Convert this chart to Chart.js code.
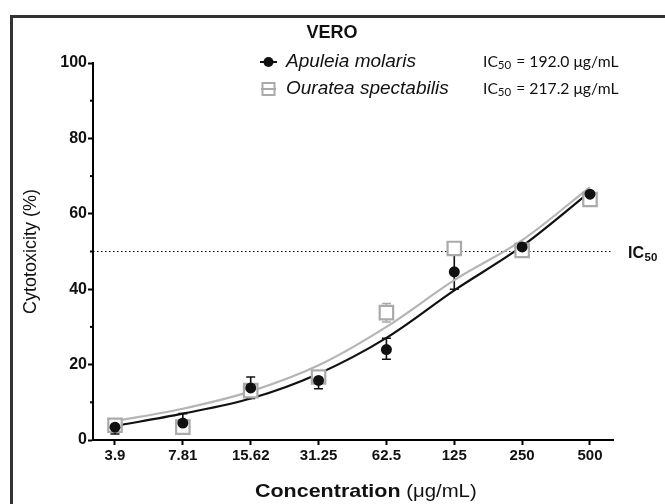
<!DOCTYPE html>
<html>
<head>
<meta charset="utf-8">
<script src="https://cdn.jsdelivr.net/npm/chart.js@4"></script>
<style>
  html, body { margin: 0; padding: 0; background: #fff; overflow: hidden; }
  #frame { position: absolute; left: 10px; top: 15px; width: 700px; height: 600px; border: 3px solid #333; }
  #wrap { position: absolute; left: 0; top: 0; width: 665px; height: 504px; }
</style>
</head>
<body>
<div id="frame"></div>
<div id="wrap"><canvas id="myChart" width="665" height="504"></canvas></div>
<script>
// concentrations (µg/mL), shown as evenly spaced categories
var concLabels = ['3.9', '7.81', '15.62', '31.25', '62.5', '125', '250', '500'];

// Apuleia molaris (black dots)
var apuleiaMean = [3.4, 4.5, 13.8, 15.8, 24.0, 44.6, 51.2, 65.2];
var apuleiaLow  = [1.6, 2.1, 11.0, 13.6, 21.4, 40.0, null, null];
var apuleiaHigh = [5.0, 7.0, 16.7, 17.8, 27.0, 49.0, null, null];
var apuleiaFit  = [3.7, 7.0, 11.0, 17.6, 27.1, 39.7, 51.4, 65.8];

// Ouratea spectabilis (grey squares)
var ourateaMean = [3.9, 3.4, 13.1, 16.7, 33.8, 50.8, 50.3, 63.8];
var ourateaLow  = [null, null, null, null, 31.3, null, null, null];
var ourateaHigh = [null, null, null, null, 36.2, null, null, null];
var ourateaFit  = [5.0, 8.3, 12.9, 19.8, 30.0, 42.4, 53.0, 67.1];

var yTicks = [0, 20, 40, 60, 80, 100];
var ic50Line = 50;

function pts(arr) {
  return arr.map(function(v, i) { return {x: i, y: v}; });
}

var AXIS_FONT = "'Liberation Sans', Arial, sans-serif";

var decor = {
  id: 'decor',
  beforeDatasetsDraw: function(chart) {
    var ctx = chart.ctx, xs = chart.scales.x, ys = chart.scales.y;
    var area = chart.chartArea;
    ctx.save();
    // IC50 dotted line
    var y50 = ys.getPixelForValue(ic50Line);
    ctx.strokeStyle = '#000';
    ctx.lineWidth = 1;
    ctx.setLineDash([1.5, 2.5]);
    ctx.beginPath();
    ctx.moveTo(area.left, y50);
    ctx.lineTo(area.right - 1, y50);
    ctx.stroke();
    ctx.setLineDash([]);

    // minor ticks on y axis
    ctx.lineWidth = 2;
    for (var v = 10; v < 100; v += 20) {
      var py = ys.getPixelForValue(v);
      ctx.beginPath();
      ctx.moveTo(area.left - 3, py);
      ctx.lineTo(area.left, py);
      ctx.stroke();
    }

    // error bars
    function bars(low, high, color) {
      ctx.strokeStyle = color;
      ctx.lineWidth = 1.6;
      for (var i = 0; i < low.length; i++) {
        if (low[i] == null) continue;
        var px = xs.getPixelForValue(i);
        var y1 = ys.getPixelForValue(low[i]);
        var y2 = ys.getPixelForValue(high[i]);
        ctx.beginPath();
        ctx.moveTo(px, y1); ctx.lineTo(px, y2);
        ctx.moveTo(px - 4.5, y1); ctx.lineTo(px + 4.5, y1);
        ctx.moveTo(px - 4.5, y2); ctx.lineTo(px + 4.5, y2);
        ctx.stroke();
      }
    }
    bars(ourateaLow, ourateaHigh, '#aaaaaa');
    bars(apuleiaLow, apuleiaHigh, '#111111');
    ctx.restore();
  },
  afterDraw: function(chart) {
    var ctx = chart.ctx, ys = chart.scales.y;
    ctx.save();
    ctx.fillStyle = '#111';
    ctx.textBaseline = 'middle';

    // title
    ctx.textAlign = 'center';
    ctx.font = "bold 18px " + AXIS_FONT;
    ctx.fillText('VERO', 332, 33);

    // legend
    ctx.textAlign = 'left';
    ctx.strokeStyle = '#111';
    ctx.lineWidth = 2;
    ctx.beginPath(); ctx.moveTo(260, 62); ctx.lineTo(277, 62); ctx.stroke();
    ctx.beginPath(); ctx.arc(268.5, 62, 5, 0, Math.PI * 2); ctx.fill();
    ctx.strokeStyle = '#aaaaaa';
    ctx.strokeRect(262.5, 83, 12, 12);
    ctx.beginPath(); ctx.moveTo(261, 89); ctx.lineTo(276, 89); ctx.stroke();

    ctx.font = "italic 19px " + AXIS_FONT;
    ctx.fillText('Apuleia molaris', 286, 62);
    ctx.fillText('Ouratea spectabilis', 286, 89);

    // IC50 values in the legend
    function ic50Text(x, y, rest) {
      ctx.font = "15.7px Lato, 'Open Sans', sans-serif";
      ctx.fillText('IC', x, y);
      var w = ctx.measureText('IC').width;
      ctx.font = "11.5px Lato, 'Open Sans', sans-serif";
      ctx.fillText('50', x + w, y + 3);
      var w2 = ctx.measureText('50').width;
      ctx.font = "15.7px Lato, 'Open Sans', sans-serif";
      ctx.fillText(rest, x + w + w2 + 1, y);
    }
    ic50Text(483, 62, ' = 192.0 μg/mL');
    ic50Text(483, 89, ' = 217.2 μg/mL');

    // IC50 label at the dotted line
    var y50 = ys.getPixelForValue(ic50Line);
    ctx.font = "bold 16px " + AXIS_FONT;
    ctx.fillText('IC', 628, y50 + 2);
    var wi = ctx.measureText('IC').width;
    ctx.font = "bold 11.5px " + AXIS_FONT;
    ctx.fillText('50', 628 + wi + 0.5, y50 + 6);

    // x axis title, bold + regular part, slightly widened like the original
    var sx = 1.13;
    ctx.translate(255, 492);
    ctx.scale(sx, 1);
    ctx.font = "bold 19px " + AXIS_FONT;
    var a = 'Concentration';
    ctx.fillText(a, 0, 0);
    var wa = ctx.measureText(a).width;
    ctx.font = "18px " + AXIS_FONT;
    ctx.fillText(' (μg/mL)', wa, 0);
    ctx.restore();
  }
};

var ctx = document.getElementById('myChart');
var chart = new Chart(ctx, {
  type: 'line',
  data: {
    datasets: [{
      label: 'Apuleia molaris',
      data: pts(apuleiaMean),
      showLine: false,
      pointStyle: 'circle',
      pointRadius: 5.5,
      pointBackgroundColor: '#111',
      pointBorderColor: '#111',
      pointBorderWidth: 0,
      order: 0
    }, {
      label: 'Ouratea spectabilis',
      data: pts(ourateaMean),
      showLine: false,
      pointStyle: 'rect',
      pointRadius: 9.5,
      pointBackgroundColor: '#fff',
      pointBorderColor: '#aaaaaa',
      pointBorderWidth: 2.2,
      order: 1
    }, {
      label: 'fit A',
      data: pts(apuleiaFit),
      borderColor: '#111',
      borderWidth: 2.2,
      pointRadius: 0,
      cubicInterpolationMode: 'monotone',
      fill: false,
      order: 2
    }, {
      label: 'fit O',
      data: pts(ourateaFit),
      borderColor: '#b5b5b5',
      borderWidth: 2.2,
      pointRadius: 0,
      cubicInterpolationMode: 'monotone',
      fill: false,
      order: 3
    }]
  },
  options: {
    responsive: false,
    animation: false,
    events: [],
    layout: { padding: { left: 0, top: 63, right: 52, bottom: 0 } },
    plugins: { legend: { display: false }, tooltip: { enabled: false } },
    scales: {
      x: {
        type: 'linear',
        min: -0.324,
        max: 7.339,
        afterFit: function(s) { s.height = 64; },
        afterBuildTicks: function(s) {
          s.ticks = concLabels.map(function(c, i) { return {value: i}; });
        },
        border: { display: true, color: '#000', width: 2 },
        grid: { drawOnChartArea: false, drawTicks: true, tickLength: 5, color: '#000', tickWidth: 2 },
        ticks: {
          color: '#111',
          padding: 2,
          maxRotation: 0,
          font: { family: AXIS_FONT, size: 15, weight: 'bold' },
          callback: function(v) { return concLabels[v]; }
        }
      },
      y: {
        min: 0,
        max: 100,
        afterFit: function(s) { s.width = 93; },
        afterBuildTicks: function(s) {
          s.ticks = yTicks.map(function(v) { return {value: v}; });
        },
        border: { display: true, color: '#000', width: 2 },
        grid: { drawOnChartArea: false, drawTicks: true, tickLength: 5, color: '#000', tickWidth: 2 },
        ticks: {
          color: '#111',
          padding: 1,
          font: { family: AXIS_FONT, size: 16, weight: 'bold' }
        },
        title: {
          display: true,
          text: 'Cytotoxicity (%)',
          color: '#111',
          padding: { top: 20, bottom: 0 },
          font: { family: AXIS_FONT, size: 18 }
        }
      }
    }
  },
  plugins: [decor]
});
</script>
</body>
</html>
